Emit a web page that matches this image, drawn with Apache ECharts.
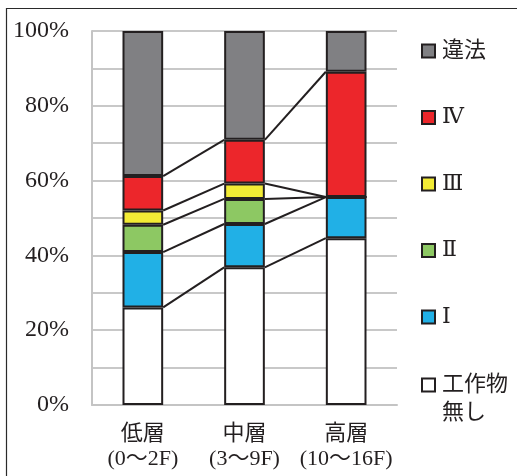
<!DOCTYPE html>
<html>
<head>
<meta charset="utf-8">
<script src="https://cdn.jsdelivr.net/npm/echarts@6/dist/echarts.min.js"></script>
<style>
html,body{margin:0;padding:0;background:#fff;}
#chart{width:517px;height:476px;}
</style>
</head>
<body>
<div id="chart"></div>
<script>
// ---- data ----
const categories = ['低層\n(0～2F)', '中層\n(3～9F)', '高層\n(10～16F)'];
const seriesNames = ['工作物無し', 'Ⅰ', 'Ⅱ', 'Ⅲ', 'Ⅳ', '違法'];
const noStructure = [26.1, 36.8, 44.6];
const level1 = [14.8, 11.6, 11.0];
const level2 = [7.3, 6.7, 0];
const level3 = [3.8, 4.1, 0];
const level4 = [9.2, 11.7, 33.5];
const illegal = [38.8, 29.1, 10.9];
const yTicks = [0, 20, 40, 60, 80, 100];

const seriesValues = [noStructure, level1, level2, level3, level4, illegal];
const colors = ['#ffffff', '#21b0e6', '#8dc863', '#f2eb35', '#ec262b', '#808083'];

const FONT = '"Liberation Serif", "DejaVu Serif", "Noto Sans CJK JP", serif';
const INK = '#231f20';

// cumulative boundaries (after each of the first 5 series) for connector lines
const connectors = [];
for (let i = 0; i < categories.length - 1; i++) {
  let cL = 0, cR = 0;
  for (let k = 0; k < seriesValues.length - 1; k++) {
    cL += seriesValues[k][i];
    cR += seriesValues[k][i + 1];
    connectors.push([i, cL, cR]);
  }
}

const chart = echarts.init(document.getElementById('chart'), null, {renderer: 'canvas'});

const barSeries = seriesNames.map((name, k) => ({
  name: name,
  type: 'bar',
  stack: 'total',
  barWidth: '40%',
  data: seriesValues[k],
  itemStyle: {color: colors[k], borderColor: INK, borderWidth: 2},
  emphasis: {disabled: true},
  z: 2
}));

const legendCommon = {
  orient: 'vertical',
  left: 416,
  icon: 'rect',
  itemWidth: 13,
  itemHeight: 13,
  selectedMode: false,
  itemStyle: {borderColor: INK, borderWidth: 2},
  textStyle: {fontFamily: FONT, fontSize: 22, color: INK, lineHeight: 28, padding: [0, 0, 0, 2]}
};

chart.setOption({
  animation: false,
  backgroundColor: '#fff',
  graphic: [{
    type: 'rect',
    shape: {x: 6.5, y: 8.5, width: 560, height: 520},
    style: {fill: 'none', stroke: '#2a2a2a', lineWidth: 1.2},
    silent: true
  }],
  grid: {left: 92, top: 31, width: 305, height: 374, containLabel: false},
  legend: [
    Object.assign({}, legendCommon, {
      top: 32,
      itemGap: 38.5,
      data: ['違法', 'Ⅳ', 'Ⅲ', 'Ⅱ', 'Ⅰ']
    }),
    Object.assign({}, legendCommon, {
      top: 338,
      data: ['工作物無し'],
      formatter: function () { return '\n工作物\n無し'; }
    })
  ],
  xAxis: {
    type: 'category',
    data: categories,
    axisLine: {show: true, lineStyle: {color: '#c4c4c4', width: 2}},
    axisTick: {show: false},
    axisLabel: {
      interval: 0,
      margin: 17,
      fontFamily: FONT,
      fontSize: 22,
      lineHeight: 25,
      color: INK
    }
  },
  yAxis: {
    type: 'value',
    min: 0,
    max: 100,
    interval: 10,
    axisLine: {show: true, lineStyle: {color: '#c4c4c4', width: 2}},
    axisTick: {show: false},
    splitLine: {show: true, lineStyle: {color: '#c8c8c8', width: 2}},
    axisLabel: {
      margin: 23,
      fontFamily: FONT,
      fontSize: 24,
      color: INK,
      formatter: function (v) { return yTicks.indexOf(v) >= 0 ? v + '%' : ''; }
    }
  },
  series: barSeries.concat([{
    type: 'custom',
    name: 'connectors',
    data: connectors,
    encode: {x: 0, y: [1, 2]},
    z: 5,
    silent: true,
    renderItem: function (params, api) {
      const i = api.value(0);
      const p1 = api.coord([i, api.value(1)]);
      const p2 = api.coord([i + 1, api.value(2)]);
      const half = api.size([1, 0])[0] * 0.2;
      return {
        type: 'line',
        shape: {x1: p1[0] + half, y1: p1[1], x2: p2[0] - half, y2: p2[1]},
        style: {stroke: INK, lineWidth: 2}
      };
    }
  }])
});
</script>
</body>
</html>
